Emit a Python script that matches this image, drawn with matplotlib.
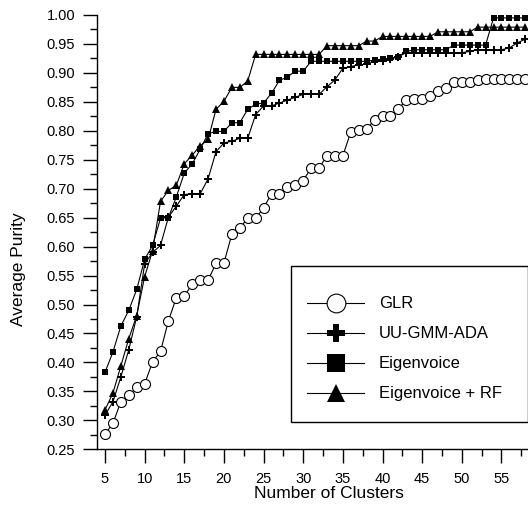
import numpy as np
import matplotlib.pyplot as plt
from matplotlib.lines import Line2D
from matplotlib.patches import Rectangle
from matplotlib.ticker import MultipleLocator, FormatStrFormatter

plt.rcParams['font.family'] = ['Liberation Sans', 'DejaVu Sans']

# number of clusters
clusters = list(range(5, 59))

glr = [0.276, 0.295, 0.332, 0.343, 0.357, 0.363, 0.401, 0.419, 0.472, 0.512,
       0.515, 0.535, 0.542, 0.542, 0.571, 0.572, 0.621, 0.632, 0.649, 0.649,
       0.667, 0.691, 0.691, 0.703, 0.707, 0.714, 0.736, 0.736, 0.757, 0.757,
       0.757, 0.798, 0.802, 0.803, 0.819, 0.826, 0.826, 0.838, 0.853, 0.855,
       0.855, 0.860, 0.868, 0.874, 0.885, 0.885, 0.885, 0.888, 0.889, 0.889,
       0.889, 0.889, 0.889, 0.889]

uu_gmm_ada = [0.309, 0.332, 0.375, 0.422, 0.479, 0.570, 0.590, 0.602, 0.651, 0.670,
              0.690, 0.691, 0.691, 0.717, 0.764, 0.779, 0.782, 0.787, 0.787, 0.828,
              0.843, 0.843, 0.848, 0.853, 0.858, 0.863, 0.863, 0.863, 0.876, 0.888,
              0.908, 0.911, 0.914, 0.915, 0.920, 0.921, 0.924, 0.928, 0.935, 0.935,
              0.935, 0.935, 0.935, 0.935, 0.935, 0.935, 0.937, 0.940, 0.940, 0.940,
              0.940, 0.943, 0.952, 0.958]

eigenvoice = [0.383, 0.418, 0.463, 0.490, 0.526, 0.578, 0.602, 0.649, 0.650, 0.686,
              0.727, 0.743, 0.768, 0.795, 0.799, 0.799, 0.814, 0.814, 0.837, 0.846,
              0.848, 0.865, 0.887, 0.893, 0.903, 0.903, 0.920, 0.920, 0.920, 0.920,
              0.920, 0.920, 0.920, 0.920, 0.922, 0.924, 0.925, 0.928, 0.937, 0.940,
              0.940, 0.940, 0.940, 0.940, 0.948, 0.948, 0.948, 0.948, 0.948, 0.995,
              0.995, 0.995, 0.995, 0.995]

eigen_rf = [0.318, 0.347, 0.394, 0.441, 0.481, 0.548, 0.593, 0.678, 0.697, 0.706,
            0.743, 0.758, 0.774, 0.785, 0.837, 0.851, 0.875, 0.875, 0.886, 0.932,
            0.932, 0.932, 0.932, 0.932, 0.932, 0.932, 0.932, 0.932, 0.947, 0.947,
            0.947, 0.947, 0.947, 0.955, 0.955, 0.963, 0.963, 0.963, 0.963, 0.963,
            0.963, 0.963, 0.971, 0.971, 0.971, 0.971, 0.971, 0.979, 0.979, 0.979,
            0.979, 0.979, 0.979, 0.979]

labels = ['GLR', 'UU-GMM-ADA', 'Eigenvoice', 'Eigenvoice + RF']

fig = plt.figure(figsize=(5.28, 5.05), dpi=100)
ax = fig.add_axes([0.1843, 0.1103, 0.8157, 0.860])

lw = 0.8
ax.plot(clusters, glr, '-o', color='black', lw=lw, ms=7.2, mfc='white', mec='black', mew=0.8)
ax.plot(clusters, uu_gmm_ada, '-P', color='black', lw=lw, ms=6.0, mew=0)
ax.plot(clusters, eigenvoice, '-s', color='black', lw=lw, ms=5.0, mew=0)
ax.plot(clusters, eigen_rf, '-^', color='black', lw=lw, ms=6.0, mew=0)

ax.set_xlim(4.03, 58.35)
ax.set_ylim(0.25, 1.00)
ax.xaxis.set_major_locator(MultipleLocator(5))
ax.xaxis.set_minor_locator(MultipleLocator(2.5))
ax.yaxis.set_major_locator(MultipleLocator(0.05))
ax.yaxis.set_minor_locator(MultipleLocator(0.025))
ax.yaxis.set_major_formatter(FormatStrFormatter('%.2f'))

ax.spines['top'].set_visible(False)
ax.spines['right'].set_visible(False)
ax.spines['left'].set_linewidth(1.0)
ax.spines['bottom'].set_linewidth(1.0)
ax.tick_params(which='major', direction='out', length=10, width=1.0, labelsize=10.5, pad=6)
ax.tick_params(which='minor', direction='out', length=5, width=1.0)

ax.set_xlabel('Number of Clusters', fontsize=12.5)
ax.set_ylabel('Average Purity', fontsize=12.5)
ax.xaxis.set_label_coords(0.538, -0.0845)
ax.yaxis.set_label_coords(-0.166, 0.415)

# legend box
ax.add_patch(Rectangle((0.449, 0.062), 0.55, 0.36, transform=ax.transAxes,
                       fill=False, edgecolor='black', lw=1.0, zorder=5))

handles = [
    Line2D([], [], color='black', lw=lw, marker='o', ms=13.5, mfc='white', mec='black', mew=0.8),
    Line2D([], [], color='black', lw=lw, marker='P', ms=12.5, mew=0),
    Line2D([], [], color='black', lw=lw, marker='s', ms=13, mew=0),
    Line2D([], [], color='black', lw=lw, marker='^', ms=13, mew=0),
]
leg = ax.legend(handles, labels, loc='center left', bbox_to_anchor=(0.449, 0.231),
                borderaxespad=0, fontsize=12, handlelength=3.4,
                handletextpad=0.9, labelspacing=0.9, borderpad=1.0, frameon=False)

fig.savefig('out.png', dpi=100)
